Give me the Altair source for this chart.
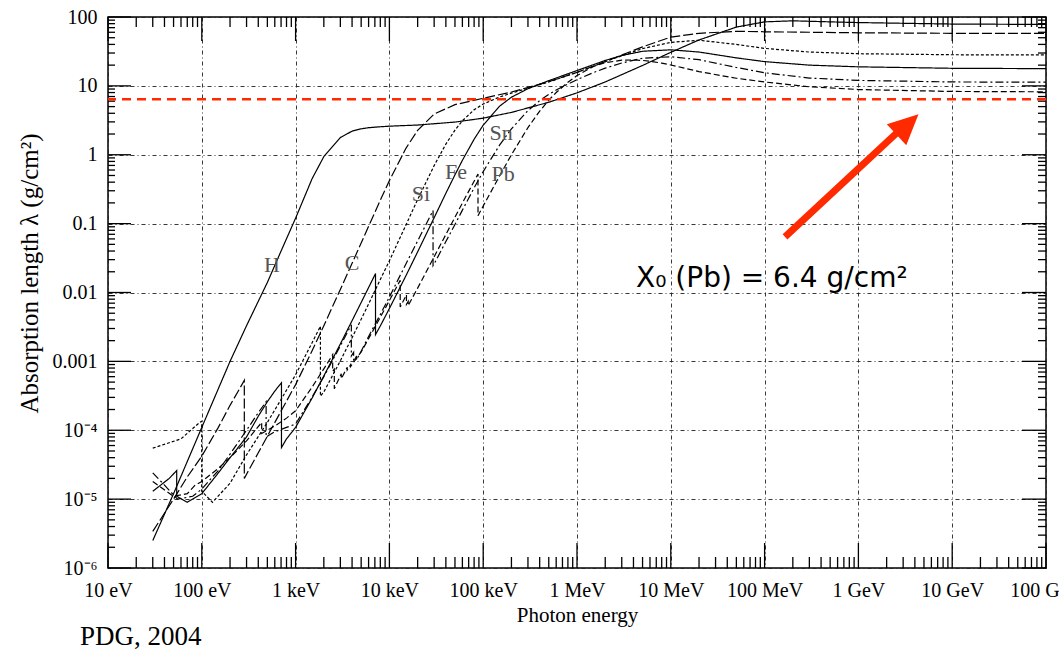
import altair as alt
import pandas as pd

# ---------------- axis ticks / labels ----------------
X_DECADES = [1e1, 1e2, 1e3, 1e4, 1e5, 1e6, 1e7, 1e8, 1e9, 1e10, 1e11]
X_TICK_LABELS = ["10 eV", "100 eV", "1 keV", "10 keV", "100 keV", "1 MeV",
                 "10 MeV", "100 MeV", "1 GeV", "10 GeV", "100 GeV"]
Y_DECADES = [1e-6, 1e-5, 1e-4, 1e-3, 1e-2, 1e-1, 1, 10, 100]
Y_TICK_LABELS = ["10⁻⁶", "10⁻⁵", "10⁻⁴", "0.001", "0.01", "0.1", "1", "10", "100"]

# ---------------- curves: photon energy (eV) and absorption length (g/cm2) ----------------
H_E = [30, 50, 100, 200, 300, 500, 700, 1000, 1500, 2000, 3000, 4000, 5000, 6000, 8000,
       1e4, 2e4, 5e4, 1e5, 2e5, 5e5, 1e6, 2e6, 5e6, 1e7, 2e7, 5e7, 1e8, 2e8, 5e8, 1e9, 1e10, 1e11]
H_L = [2.5e-6, 1.2e-5, 1.1e-4, 1.0e-3, 3.3e-3, 0.014, 0.040, 0.12, 0.45, 0.94, 1.78, 2.2, 2.38,
       2.47, 2.55, 2.6, 2.7, 2.98, 3.4, 4.12, 5.78, 7.92, 11.4, 19.8, 30.7, 46.4, 71.4, 85, 88,
       85, 83, 79, 78]

C_E = [30, 50, 70, 100, 150, 200, 250, 284, 284, 300, 400, 500, 700, 1000, 1500, 2000, 3000,
       4000, 5000, 6000, 8000, 1e4, 1.5e4, 2e4, 3e4, 5e4, 1e5, 2e5, 5e5, 1e6, 2e6, 5e6, 1e7,
       2e7, 5e7, 1e8, 1e9, 1e10, 1e11]
C_L = [3.4e-6, 1.0e-5, 2.1e-5, 4.2e-5, 1.1e-4, 2.3e-4, 3.9e-4, 5.3e-4, 2.0e-5, 2.3e-5, 4.7e-5,
       8.2e-5, 1.9e-4, 4.6e-4, 1.43e-3, 3.3e-3, 0.0111, 0.0265, 0.0523, 0.0913, 0.2185, 0.421,
       1.24, 2.26, 3.9, 5.34, 6.6, 8.14, 11.5, 15.7, 22.5, 36.9, 51, 58, 62, 61, 59, 58, 58]

Si_E = [30, 60, 95, 99.8, 99.8, 130, 200, 300, 500, 700, 1000, 1500, 1839, 1839, 2000, 3000,
        4000, 5000, 6000, 8000, 1e4, 1.5e4, 2e4, 3e4, 4e4, 5e4, 6e4, 8e4, 1e5, 1.5e5, 2e5,
        3e5, 5e5, 1e6, 2e6, 3e6, 5e6, 1e7, 2e7, 5e7, 1e8, 3e8, 1e9, 1e10, 1e11]
Si_L = [5.5e-5, 7.5e-5, 1.3e-4, 1.35e-4, 1.3e-5, 9e-6, 1.7e-5, 4.4e-5, 1.3e-4, 2.8e-4, 6.4e-4,
        1.87e-3, 3.23e-3, 3.13e-4, 3.6e-4, 1.02e-3, 2.21e-3, 4.08e-3, 6.8e-3, 0.01546, 0.0289,
        0.0954, 0.224, 0.696, 1.43, 2.28, 3.12, 4.49, 5.45, 6.91, 7.84, 9.24, 11.4, 15.7, 22.4,
        27.4, 34.8, 42.8, 46, 40, 35, 31, 29.3, 28.3, 28.1]

Fe_E = [30, 45, 54, 54, 70, 100, 150, 200, 300, 400, 500, 600, 707, 707, 800, 1000, 1500, 2000,
        3000, 4000, 5000, 6000, 7112, 7112, 8000, 1e4, 1.5e4, 2e4, 3e4, 4e4, 5e4, 6e4, 8e4, 1e5,
        1.5e5, 2e5, 3e5, 5e5, 1e6, 2e6, 3e6, 5e6, 1e7, 2e7, 5e7, 1e8, 3e8, 1e9, 1e10, 1e11]
Fe_L = [1.3e-5, 2.0e-5, 2.6e-5, 1.1e-5, 9e-6, 1.2e-5, 2.4e-5, 4e-5, 8e-5, 1.6e-4, 2.6e-4, 3.7e-4,
        4.9e-4, 5.6e-5, 7.5e-5, 1.1e-4, 2.94e-4, 6.15e-4, 1.79e-3, 3.9e-3, 7.15e-3, 0.0118,
        0.0188, 2.45e-3, 3.27e-3, 5.86e-3, 0.0175, 0.0389, 0.122, 0.276, 0.511, 0.83, 1.68, 2.69,
        5.09, 6.85, 9.1, 11.9, 16.7, 23.4, 27.6, 31.8, 33.4, 31.0, 25.5, 22.5, 20, 18.9, 18.0, 17.8]

Sn_E = [30, 40, 55, 80, 100, 150, 200, 300, 400, 485, 485, 600, 800, 1000, 1500, 2000, 3000,
        3929, 3929, 4156, 4156, 4465, 4465, 5000, 6000, 8000, 1e4, 1.5e4, 2e4, 29200, 29200, 3e4,
        4e4, 5e4, 6e4, 8e4, 1e5, 1.5e5, 2e5, 3e5, 4e5, 5e5, 6e5, 8e5, 1e6, 1.5e6, 2e6, 3e6, 5e6,
        1e7, 2e7, 5e7, 1e8, 3e8, 1e9, 1e10, 1e11]
Sn_L = [2.4e-5, 1.6e-5, 1.0e-5, 1.1e-5, 1.4e-5, 2.6e-5, 4.5e-5, 1.0e-4, 1.8e-4, 2.6e-4, 8e-5,
        9.5e-5, 1.1e-4, 1.23e-4, 3.03e-4, 6.0e-4, 1.68e-3, 3.4e-3, 1.2e-3, 1.35e-3, 9.9e-4,
        1.2e-3, 1.05e-3, 1.4e-3, 2.3e-3, 4.8e-3, 8.6e-3, 0.026, 0.056, 0.155, 0.0245, 0.026,
        0.055, 0.097, 0.157, 0.33, 0.57, 1.39, 2.38, 4.38, 6.1, 7.5, 8.7, 10.6, 12.3, 15.6, 18.1,
        21.5, 25.2, 26.5, 24.0, 18.5, 15.5, 13, 12.0, 11.4, 11.3]

Pb_E = [30, 50, 70, 85, 100, 150, 200, 300, 435, 435, 500, 600, 800, 1000, 1500, 2000, 2484,
        2484, 2586, 2586, 3066, 3066, 3554, 3554, 3851, 3851, 5000, 6000, 8000, 1e4, 13035,
        13035, 15200, 15200, 15861, 15861, 2e4, 3e4, 4e4, 5e4, 6e4, 8e4, 88005, 88005, 1e5,
        1.5e5, 2e5, 3e5, 4e5, 5e5, 6e5, 8e5, 1e6, 1.5e6, 2e6, 3e6, 4e6, 5e6, 6e6, 8e6, 1e7,
        1.5e7, 2e7, 5e7, 1e8, 3e8, 1e9, 1e10, 1e11]
Pb_L = [1.8e-5, 1.1e-5, 1.2e-5, 1.6e-5, 1.8e-5, 2.8e-5, 4e-5, 7e-5, 1.3e-4, 9e-5, 1.0e-4,
        1.15e-4, 1.5e-4, 1.92e-4, 4.24e-4, 7.8e-4, 1.25e-3, 7.2e-4, 7.7e-4, 4.0e-4, 6.6e-4,
        5.6e-4, 8.2e-4, 7.5e-4, 8.9e-4, 8.4e-4, 1.37e-3, 2.14e-3, 4.37e-3, 7.66e-3, 0.015,
        6.15e-3, 9.28e-3, 6.73e-3, 7.41e-3, 6.46e-3, 0.01158, 0.033, 0.0696, 0.124, 0.199,
        0.413, 0.524, 0.130, 0.180, 0.497, 1.0, 2.48, 4.3, 6.2, 8.0, 11.3, 14.1, 19.2, 21.7,
        23.6, 23.8, 23.4, 22.8, 21.4, 20.1, 17.7, 16.1, 12.9, 11.4, 9.7, 8.85, 8.3, 8.2]

ELEMENTS = ["H", "C", "Si", "Fe", "Sn", "Pb"]
SERIES = {"H": (H_E, H_L), "C": (C_E, C_L), "Si": (Si_E, Si_L),
          "Fe": (Fe_E, Fe_L), "Sn": (Sn_E, Sn_L), "Pb": (Pb_E, Pb_L)}
DASHES = [[1, 0], [10, 3], [3, 2], [1, 0], [8, 3, 2, 3], [6, 3]]

# curve labels (position)
LABEL_TEXT = ["H", "C", "Si", "Fe", "Sn", "Pb"]
LABEL_E = [560, 3990, 21700, 51300, 155000, 163000]
LABEL_L = [0.025, 0.0269, 0.27, 0.562, 2.07, 0.526]

# radiation-length annotation
X0_PB = 6.4
NOTE_TEXT = ["X₀ (Pb) = 6.4 g/cm²"]
NOTE_E = [4.26e6]
NOTE_L = [0.0121]
ARROW_E = [1.65e8]
ARROW_L = [0.0641]
ARROW_E2 = [2.77e9]
ARROW_L2 = [2.29]
HEAD_E = [3.34e9]
HEAD_L = [2.75]

RED = "#FF2A00"
SERIF = "Liberation Serif"

rows = []
for el in ELEMENTS:
    es, ls = SERIES[el]
    for i, (e, l) in enumerate(zip(es, ls)):
        rows.append({"el": el, "i": i, "E": e, "L": l})
curves_df = pd.DataFrame(rows)

xscale = alt.Scale(type="log", domain=[1e1, 1e11], nice=False)
yscale = alt.Scale(type="log", domain=[1e-6, 1e2], nice=False)

x_label_expr = "[" + ",".join("'%s'" % s for s in X_TICK_LABELS) + "][round(log(datum.value)/LN10)-1]"
y_label_expr = "[" + ",".join("'%s'" % s for s in Y_TICK_LABELS) + "][round(log(datum.value)/LN10)+6]"

xaxis = alt.Axis(values=X_DECADES, labelExpr=x_label_expr, ticks=False, domain=False,
                 grid=True, gridDash=[4, 3, 1, 3], gridColor="#222222", gridWidth=1,
                 gridOpacity=0.9, labelFont=SERIF, labelFontSize=20, labelColor="black",
                 labelPadding=12, labelFlush=False, labelOverlap=False,
                 title="Photon energy", titleFont=SERIF, titleFontSize=21,
                 titleFontWeight="normal", titleColor="black", titlePadding=4)
yaxis = alt.Axis(values=Y_DECADES, labelExpr=y_label_expr, ticks=False, domain=False,
                 grid=True, gridDash=[4, 3, 1, 3], gridColor="#222222", gridWidth=1,
                 gridOpacity=0.9, labelFont=SERIF, labelFontSize=20, labelColor="black",
                 labelPadding=11, labelFlush=False, labelOverlap=False,
                 title="Absorption length λ  (g/cm²)", titleFont=SERIF, titleFontSize=25,
                 titleFontWeight="normal", titleColor="black", titleX=-79, titleY=256,
                 titleAngle=270, titleBaseline="middle", titleAlign="center")

X = alt.X("E:Q", scale=xscale, axis=xaxis)
Y = alt.Y("L:Q", scale=yscale, axis=yaxis)

curves = alt.Chart(curves_df).mark_line(color="black", strokeWidth=1.2).encode(
    x=X, y=Y,
    strokeDash=alt.StrokeDash("el:N", scale=alt.Scale(domain=ELEMENTS, range=DASHES), legend=None),
    order=alt.Order("i:Q"),
)

labels = alt.Chart(pd.DataFrame({"E": LABEL_E, "L": LABEL_L, "t": LABEL_TEXT})).mark_text(
    font=SERIF, fontSize=22, color="#555555", align="center", baseline="middle"
).encode(x=X, y=Y, text="t:N")

red_line = alt.Chart(pd.DataFrame({"L": [X0_PB]})).mark_rule(
    color=RED, strokeWidth=2.5, strokeDash=[9, 6]
).encode(y=Y)

arrow = alt.Chart(pd.DataFrame({"E": ARROW_E, "L": ARROW_L, "E2": ARROW_E2, "L2": ARROW_L2})).mark_rule(
    color=RED, strokeWidth=7
).encode(x=X, y=Y, x2="E2:Q", y2="L2:Q")

head = alt.Chart(pd.DataFrame({"E": HEAD_E, "L": HEAD_L})).mark_point(
    shape="M0,-1L-0.95,1L0.95,1Z", filled=True, size=900, angle=47, color=RED, opacity=1
).encode(x=X, y=Y)

note = alt.Chart(pd.DataFrame({"E": NOTE_E, "L": NOTE_L, "t": NOTE_TEXT})).mark_text(
    font="DejaVu Sans", fontSize=28, color="black", align="left", baseline="alphabetic"
).encode(x=X, y=Y, text="t:N")

# inward ticks on all four sides
minor_x = [m * d for d in X_DECADES[:-1] for m in range(2, 10)]
minor_y = [m * d for d in Y_DECADES[:-1] for m in range(2, 10)]
W, Hh = 938, 551


def xticks(vals, y0, y1):
    return alt.Chart(pd.DataFrame({"E": vals})).mark_rule(color="black", strokeWidth=1.3).encode(
        x=X, y=alt.value(y0), y2=alt.value(y1))


def yticks(vals, x0, x1):
    return alt.Chart(pd.DataFrame({"L": vals})).mark_rule(color="black", strokeWidth=1.3).encode(
        y=Y, x=alt.value(x0), x2=alt.value(x1))


ticks = [
    xticks(X_DECADES, Hh, Hh - 25), xticks(X_DECADES, 0, 24),
    xticks(minor_x, Hh, Hh - 11), xticks(minor_x, 0, 10),
    yticks(Y_DECADES, 0, 23), yticks(Y_DECADES, W, W - 24),
    yticks(minor_y, 0, 7), yticks(minor_y, W, W - 8),
]

pdg = alt.Chart(pd.DataFrame({"t": ["PDG, 2004"]})).mark_text(
    font=SERIF, fontSize=27, color="black", align="left", baseline="middle"
).encode(x=alt.value(-28), y=alt.value(620), text="t:N")

chart = alt.layer(curves, *ticks, red_line, labels, note, arrow, head, pdg).properties(
    width=W, height=Hh,
    autosize=alt.AutoSizeParams(type="none"),
    padding={"left": 108, "top": 17, "right": 13, "bottom": 82},
    background="white",
).configure_view(stroke="black", strokeWidth=1.5)

chart.save("out.html", embed_options={"renderer": "svg", "actions": False})
